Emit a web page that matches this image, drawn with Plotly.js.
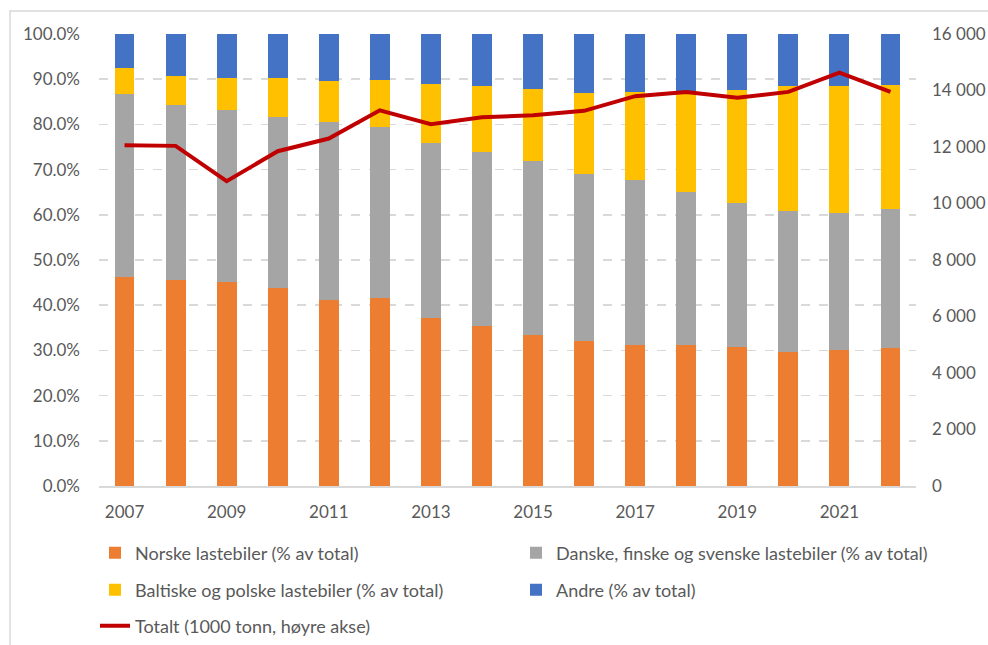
<!DOCTYPE html>
<html>
<head>
<meta charset="utf-8">
<script src="https://cdn.plot.ly/plotly-3.0.1.min.js"></script>
<style>html,body{margin:0;padding:0;background:#fff;}#chart{width:988px;height:645px;}</style>
</head>
<body>
<div id="chart"></div>
<script>
const years = [2007,2008,2009,2010,2011,2012,2013,2014,2015,2016,2017,2018,2019,2020,2021,2022];
const norske   = [46.2,45.5,45.1,43.8,41.2,41.7,37.2,35.3,33.5,32.0,31.3,31.3,30.8,29.7,30.2,30.6];
const nordiske = [40.5,38.7,38.0,37.9,39.4,37.7,38.6,38.7,38.3,37.0,36.3,33.8,31.8,31.1,30.1,30.6];
const baltiske = [5.7,6.6,7.2,8.6,9.0,10.5,13.2,14.5,16.0,18.0,19.6,22.3,25.1,27.7,28.2,27.5];
const andre    = [7.6,9.2,9.7,9.7,10.4,10.1,11.0,11.5,12.2,13.0,12.8,12.6,12.3,11.5,11.5,11.3];
const totalt   = [12060,12040,10790,11850,12300,13300,12810,13050,13120,13280,13800,13950,13740,13950,14630,13950];

const names = [
  'Norske lastebiler (% av total)',
  'Danske, finske og svenske lastebiler (% av total)',
  'Baltiske og polske lastebiler (% av total)',
  'Andre (% av total)',
  'Totalt (1000 tonn, høyre akse)'
];
const colors = ['#ED7D31','#A5A5A5','#FFC000','#4472C4','#C00000'];
const FONT = 'Lato, "Open Sans", sans-serif';
const TXT = '#595959';

const barSeries = [norske, nordiske, baltiske, andre];
const legendIds = ['legend','legend2','legend3','legend4','legend5'];
const traces = barSeries.map((s,i)=>({
  type:'bar', x:years, y:s, name:names[i],
  marker:{color:colors[i]}, legend:legendIds[i],
  hoverinfo:'y+name'
}));
traces.push({
  type:'scatter', mode:'lines', x:years, y:totalt, name:names[4], yaxis:'y2',
  line:{color:colors[4], width:4}, legend:legendIds[4]
});

const legendAt = (xPix, yPix)=>({
  orientation:'h', xref:'container', yref:'container',
  x:xPix/988, y:(645-yPix)/645, xanchor:'left', yanchor:'middle',
  traceorder:'normal',
  font:{family:FONT, size:18, color:TXT}, bgcolor:'rgba(0,0,0,0)'
});

const tf = {family:FONT, size:17, color:TXT};
const layout = {
  width:988, height:645,
  margin:{l:99, r:72, t:34, b:159},
  paper_bgcolor:'#fff', plot_bgcolor:'#fff',
  separators:'. ',
  barmode:'stack', bargap:0.61,
  font:{family:FONT, size:17, color:TXT},
  xaxis:{
    range:[2006.5,2022.5], tickmode:'linear', tick0:2007, dtick:2,
    showgrid:false, zeroline:false, showline:true, linecolor:'#D9D9D9', linewidth:1.5,
    ticks:'', ticklabelstandoff:10, tickfont:tf
  },
  yaxis:{
    range:[0,100], dtick:10, tickformat:'.1f', ticksuffix:'%',
    showgrid:true, gridcolor:'#D9D9D9', gridwidth:1.5, griddash:'dash',
    zeroline:false, showline:false, ticks:'', ticklabelstandoff:18,
    tickfont:tf
  },
  yaxis2:{
    overlaying:'y', side:'right', range:[0,16000], dtick:2000, tickformat:',d',
    showgrid:false, zeroline:false, showline:false, ticks:'', ticklabelstandoff:15,
    tickfont:tf
  },
  legend:  legendAt(95, 553),
  legend2: legendAt(516, 553),
  legend3: legendAt(95, 590),
  legend4: legendAt(516, 590),
  legend5: legendAt(95, 626),
  shapes:[{type:'rect', xref:'paper', yref:'paper', x0:-89/817, x1:1.2, y0:-0.5, y1:(485-11)/451,
    line:{color:'#D9D9D9', width:1.5}, fillcolor:'rgba(0,0,0,0)', layer:'below'}],
  showlegend:true
};

Plotly.newPlot('chart', traces, layout, {displayModeBar:false, staticPlot:true});
</script>
</body>
</html>
